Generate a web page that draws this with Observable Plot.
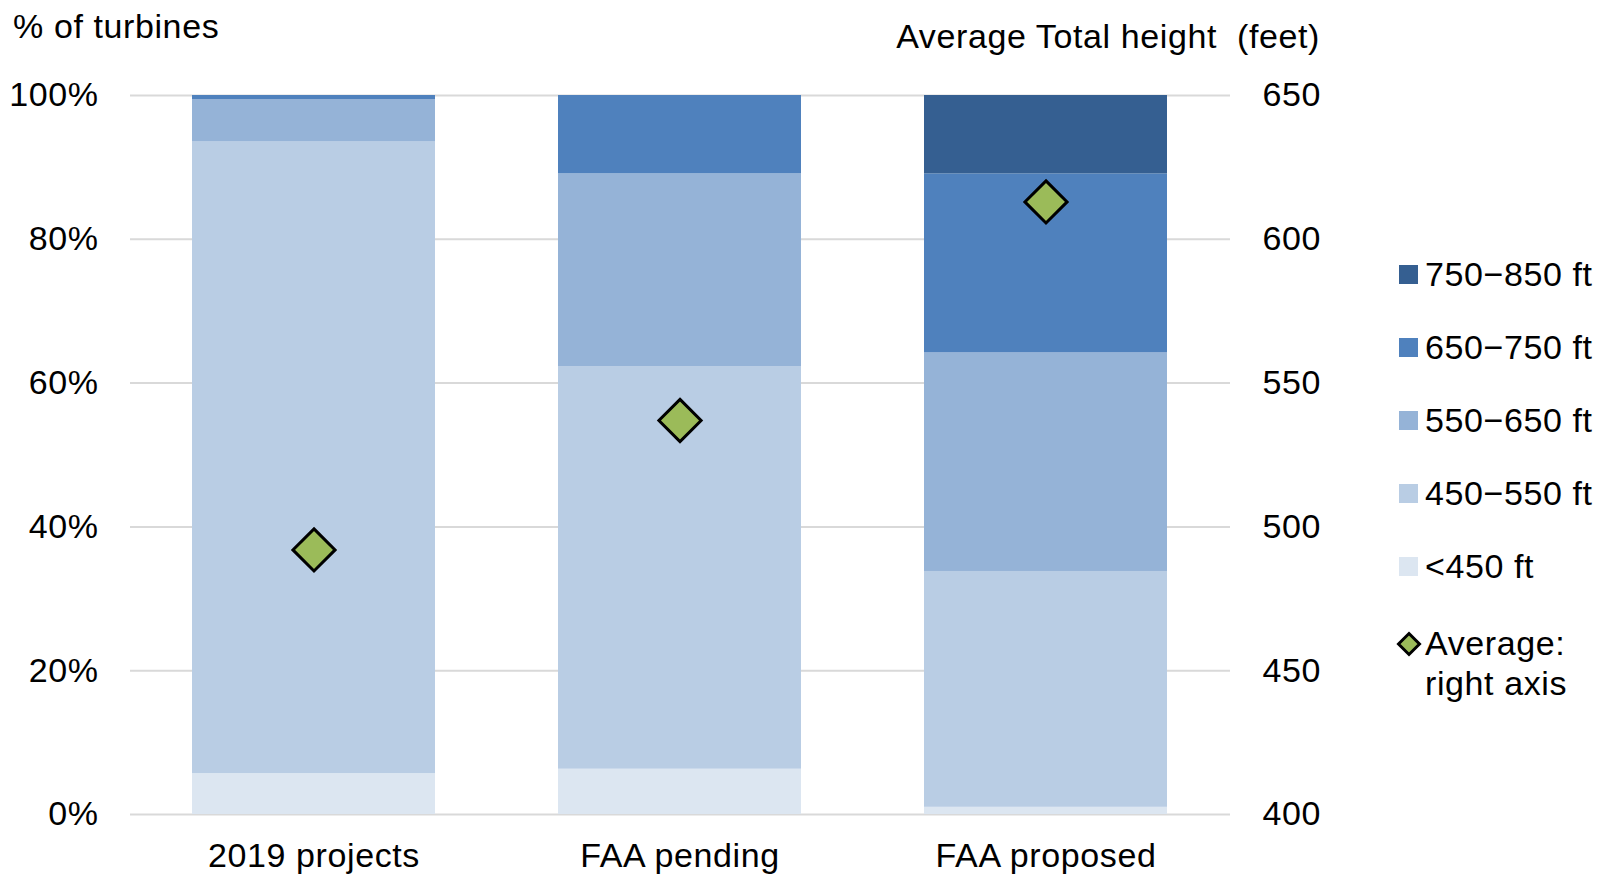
<!DOCTYPE html>
<html>
<head>
<meta charset="utf-8">
<script src="https://cdn.jsdelivr.net/npm/d3@7"></script>
<script src="https://cdn.jsdelivr.net/npm/@observablehq/plot@0.6"></script>
<style>
  html, body { margin: 0; padding: 0; background: #fff; }
  #wrap { position: relative; width: 1600px; height: 875px; overflow: hidden; font-family: "Liberation Sans", Arial, sans-serif; color: #000; letter-spacing: 0.6px; }
  #chart { position: absolute; left: 0; top: 0; }
  .title { position: absolute; font-size: 34px; line-height: 34px; white-space: pre; }
  #legend { position: absolute; left: 1399px; top: 238px; font-size: 34px; }
  .row { display: flex; align-items: center; height: 73px; }
  .sw { width: 19px; height: 19px; margin-right: 7px; flex: none; }
  .row2 { display: flex; align-items: flex-start; margin-top: 20px; line-height: 40px; }
  .row2 svg { flex: none; margin-top: 8px; margin-right: 3px; margin-left: -3px; }
</style>
</head>
<body>
<div id="wrap">
  <div id="chart"></div>
  <div class="title" style="left:13px; top:9px;">% of turbines</div>
  <div class="title" style="right:280px; top:19px; text-align:right;">Average Total height  (feet)</div>
  <div id="legend"></div>
</div>
<script>
// ---- data ----
const categories = ["2019 projects", "FAA pending", "FAA proposed"];
const bins = ["<450 ft", "450−550 ft", "550−650 ft", "650−750 ft", "750−850 ft"];
const share_lt450   = [5.7, 6.3, 1.0];
const share_450_550 = [87.9, 56.0, 32.8];
const share_550_650 = [5.8, 26.8, 30.4];
const share_650_750 = [0.6, 10.9, 24.9];
const share_750_850 = [0.0, 0.0, 10.9];
const averageHeight = [492, 537, 613];
const leftTicks = [0, 20, 40, 60, 80, 100];
const rightTicks = [400, 450, 500, 550, 600, 650];
const binColors = ["#dce6f1", "#b9cde4", "#95b3d7", "#4f81bd", "#355f91"];
const avgLabel = "Average: right axis";

// ---- build tables ----
const seriesByBin = [share_lt450, share_450_550, share_550_650, share_650_750, share_750_850];
const table = [];
bins.forEach((b, i) => categories.forEach((c, j) => table.push({category: c, bin: b, value: seriesByBin[i][j]})));
const rightMin = rightTicks[0], rightMax = rightTicks[rightTicks.length - 1];
const toLeft = v => (v - rightMin) / (rightMax - rightMin) * 100;
const toRight = p => rightMin + p / 100 * (rightMax - rightMin);
const avgData = categories.map((c, j) => ({category: c, avg: averageHeight[j]}));

const chart = Plot.plot({
  width: 1600,
  height: 875,
  marginLeft: 130,
  marginRight: 370,
  marginTop: 95,
  marginBottom: 61,
  style: {fontFamily: "'Liberation Sans', Arial, sans-serif", fontSize: "34px", color: "#000", background: "transparent", letterSpacing: "0.6px"},
  x: {domain: categories, paddingInner: 0.336, paddingOuter: 0.168, label: null},
  y: {domain: [0, 100], label: null},
  color: {domain: bins, range: binColors},
  marks: [
    Plot.gridY(leftTicks, {stroke: "#d9d9d9", strokeOpacity: 1, strokeWidth: 2}),
    Plot.barY(table, {x: "category", y: "value", fill: "bin"}),
    Plot.axisY(leftTicks, {anchor: "left", tickSize: 0, tickPadding: 32, tickFormat: d => d + "%", label: null}),
    Plot.axisY(rightTicks.map(toLeft), {anchor: "right", tickSize: 0, tickPadding: 32, tickFormat: d => String(Math.round(toRight(d))), label: null}),
    Plot.axisX({tickSize: 0, tickPadding: 28, label: null}),
    Plot.dot(avgData, {x: "category", y: d => toLeft(d.avg), symbol: "diamond2", r: 19, fill: "#9bbb59", stroke: "#000", strokeWidth: 3})
  ]
});
document.getElementById("chart").appendChild(chart);

// ---- legend ----
const legend = document.getElementById("legend");
[...bins].reverse().forEach(b => {
  const row = document.createElement("div");
  row.className = "row";
  const sw = document.createElement("div");
  sw.className = "sw";
  sw.style.background = binColors[bins.indexOf(b)];
  const t = document.createElement("span");
  t.textContent = b;
  row.appendChild(sw); row.appendChild(t);
  legend.appendChild(row);
});
const r2 = document.createElement("div");
r2.className = "row2";
r2.innerHTML = '<svg width="26" height="26" viewBox="-13 -13 26 26"><polygon points="0,-10.5 10.5,0 0,10.5 -10.5,0" fill="#9bbb59" stroke="#000" stroke-width="3"/></svg>';
const t2 = document.createElement("div");
const parts = avgLabel.split(" ");
t2.appendChild(document.createTextNode(parts[0]));
t2.appendChild(document.createElement("br"));
t2.appendChild(document.createTextNode(parts.slice(1).join(" ")));
r2.appendChild(t2);
legend.appendChild(r2);
</script>
</body>
</html>
